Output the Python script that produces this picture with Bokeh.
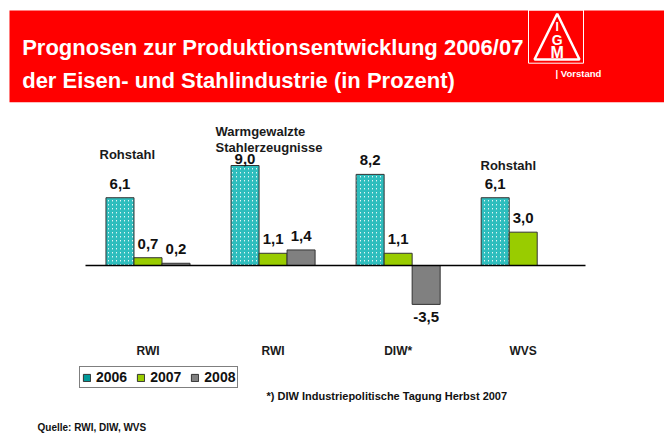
from bokeh.plotting import figure
from bokeh.models import (ColumnDataSource, Range1d, FixedTicker, Label, LabelSet,
                          Legend, LegendItem, LinearAxis)
from bokeh.core.properties import value
from bokeh.embed import file_html
from bokeh.resources import INLINE

# ---------------- data ----------------
categories = ["RWI", "RWI", "DIW*", "WVS"]
group_titles = ["Rohstahl", "Warmgewalzte\nStahlerzeugnisse", "", "Rohstahl"]
years = ["2006", "2007", "2008"]
values_2006 = [6.1, 9.0, 8.2, 6.1]
values_2007 = [0.7, 1.1, 1.1, 3.0]
values_2008 = [0.2, 1.4, -3.5, None]
footnote = "*) DIW Industriepolitische Tagung Herbst 2007"
source_note = "Quelle: RWI, DIW, WVS"
title_lines = ["Prognosen zur Produktionsentwicklung 2006/07",
               "der Eisen- und Stahlindustrie (in Prozent)"]

FONT = "Liberation Sans"
W, H = 664, 434
BAR_W = 0.224
NAN = float("nan")

p = figure(width=W, height=H, output_backend="svg", toolbar_location=None,
           x_range=Range1d(-1.1793, 4.1297), y_range=Range1d(-15.21, 23.85),
           min_border=0, x_axis_location=None, y_axis_location=None,
           outline_line_color=None)
p.grid.visible = False
p.extra_x_ranges = {"px": Range1d(0, W)}
p.extra_y_ranges = {"px": Range1d(H, 0)}

# ---------------- banner ----------------
p.quad(left=[9], right=[W], top=[10], bottom=[101.7], fill_color="#FF0000",
       line_color=None, x_range_name="px", y_range_name="px")
p.quad(left=[528], right=[583], top=[9.5], bottom=[62.7], fill_color=None,
       line_color="white", line_width=1, x_range_name="px", y_range_name="px")
p.patch(x=[556.7, 534, 579], y=[13.3, 59, 59], fill_color=None, line_color="white",
        line_width=2.5, x_range_name="px", y_range_name="px")
for txt, yy, fs in [("I", 26.7, "12px"), ("G", 39.5, "14px"), ("M", 51.5, "16px")]:
    p.add_layout(Label(x=556.7, y=yy, text=txt, x_range_name="px", y_range_name="px",
                       text_align="center", text_baseline="middle", text_color="white",
                       text_font=FONT, text_font_style="bold", text_font_size=fs))
p.add_layout(Label(x=555, y=72.7, text="| Vorstand", x_range_name="px", y_range_name="px",
                   text_align="left", text_baseline="middle", text_color="white",
                   text_font=FONT, text_font_style="bold", text_font_size="9.5px"))
for line, yy in zip(title_lines, [47, 80]):
    p.add_layout(Label(x=21.7, y=yy, text=line, x_range_name="px", y_range_name="px",
                       text_align="left", text_baseline="alphabetic", text_color="white",
                       text_font=FONT, text_font_style="bold", text_font_size="22px"))

# ---------------- bars ----------------
xs = list(range(len(categories)))
series = [values_2006, values_2007, values_2008]
offsets = [-BAR_W, 0.0, BAR_W]
# the label of the tallest bar sits closer to its bar (room for the group title)
label_gap = {(0, 1): 2}
renderers = []
for k, vals in enumerate(series):
    idx = [i for i, v in enumerate(vals) if v is not None]
    bx = [xs[i] + offsets[k] for i in idx]
    bv = [vals[i] for i in idx]
    labs = [f"{v:.1f}".replace(".", ",") for v in bv]
    src = ColumnDataSource(dict(x=bx, top=bv))
    if k == 0:
        r = p.vbar(x="x", top="top", bottom=0, width=BAR_W, source=src,
                   fill_color="white", hatch_pattern="/", hatch_color="#2EBDBD",
                   hatch_scale=4, hatch_weight=2, line_color="#333333", line_width=1)
    elif k == 1:
        r = p.vbar(x="x", top="top", bottom=0, width=BAR_W, source=src,
                   fill_color="#99CC00", line_color="#333333", line_width=1)
    else:
        r = p.vbar(x="x", top="top", bottom=0, width=BAR_W, source=src,
                   fill_color="#808080", line_color="#333333", line_width=1)
    renderers.append(r)
    pos = ColumnDataSource(dict(
        x=[a for a, v in zip(bx, bv) if v >= 0],
        y=[v for v in bv if v >= 0],
        lab=[l for l, v in zip(labs, bv) if v >= 0],
        off=[label_gap.get((k, i), 9) for i, v in zip(idx, bv) if v >= 0]))
    neg = ColumnDataSource(dict(
        x=[a for a, v in zip(bx, bv) if v < 0],
        y=[v for v in bv if v < 0],
        lab=[l for l, v in zip(labs, bv) if v < 0]))
    p.add_layout(LabelSet(x="x", y="y", text="lab", source=pos, y_offset="off",
                          text_align="center", text_baseline="alphabetic",
                          text_font=value(FONT), text_font_style="bold",
                          text_font_size="15px", text_color="#111111"))
    p.add_layout(LabelSet(x="x", y="y", text="lab", source=neg, y_offset=-8,
                          text_align="center", text_baseline="top",
                          text_font=value(FONT), text_font_style="bold",
                          text_font_size="15px", text_color="#111111"))

# baseline axis at zero across the category span
base_axis = LinearAxis(fixed_location=0, bounds=(xs[0] - 0.5, xs[-1] + 0.5),
                       ticker=FixedTicker(ticks=[]), axis_line_color="black",
                       axis_line_width=1.5, major_tick_line_color=None,
                       minor_tick_line_color=None, major_label_text_color=None)
p.add_layout(base_axis, "below")

# category axis (placed at the bottom of the chart area)
cat_axis = LinearAxis(fixed_location=-6.57, ticker=FixedTicker(ticks=xs),
                      major_label_overrides={x: c for x, c in zip(xs, categories)},
                      axis_line_color=None, major_tick_line_color=None,
                      minor_tick_line_color=None, major_tick_out=0, minor_tick_out=0,
                      major_label_standoff=5, major_label_text_font=FONT,
                      major_label_text_font_style="bold",
                      major_label_text_font_size="12px",
                      major_label_text_color="#1a1a1a")
p.add_layout(cat_axis, "below")

# group titles
title_pos = [(99, 154.3), (215, 130.7), (None, None), (480, 165)]
for t, (gx, gy) in zip(group_titles, title_pos):
    if not t:
        continue
    for j, part in enumerate(t.split("\n")):
        p.add_layout(Label(x=gx, y=gy + 16 * j, text=part, x_range_name="px",
                           y_range_name="px", text_align="left",
                           text_baseline="alphabetic", text_font=FONT,
                           text_font_style="bold", text_font_size="13px",
                           text_color="#1a1a1a"))

# ---------------- legend ----------------
dummy = p.quad(left=[NAN], right=[NAN], top=[NAN], bottom=[NAN],
               fill_color="#009999", line_color="#333333")
legend = Legend(items=[LegendItem(label=years[0], renderers=[dummy]),
                       LegendItem(label=years[1], renderers=[renderers[1]]),
                       LegendItem(label=years[2], renderers=[renderers[2]])],
                orientation="horizontal", location=(79, H - 388),
                label_text_font=FONT, label_text_font_style="bold",
                label_text_font_size="14px", label_text_color="#111111",
                glyph_width=9, glyph_height=9, label_standoff=5, spacing=9,
                padding=2, margin=0, label_height=12,
                border_line_color="black", border_line_width=1,
                background_fill_color="white", background_fill_alpha=1)
p.add_layout(legend, "center")

# ---------------- notes ----------------
p.add_layout(Label(x=266, y=395.7, text=footnote, x_range_name="px", y_range_name="px",
                   text_align="left", text_baseline="alphabetic", text_font=FONT,
                   text_font_style="bold", text_font_size="11px", text_color="#111111"))
p.add_layout(Label(x=37, y=427, text=source_note, x_range_name="px", y_range_name="px",
                   text_align="left", text_baseline="alphabetic", text_font=FONT,
                   text_font_style="bold", text_font_size="10px", text_color="#111111"))

open("out.html", "w").write(file_html(p, INLINE))
